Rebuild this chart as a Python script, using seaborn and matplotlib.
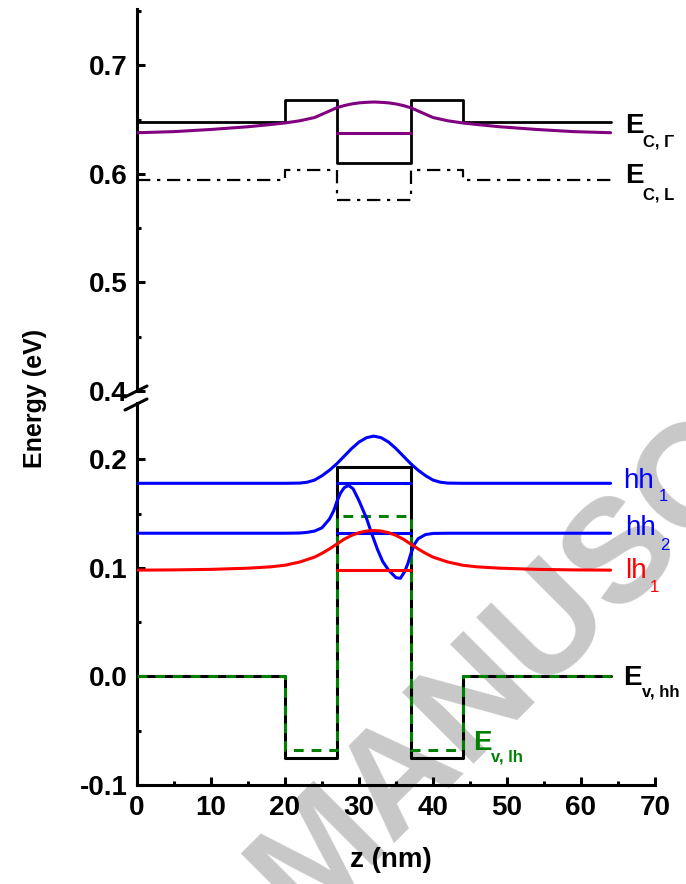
import matplotlib
matplotlib.use("Agg")
import numpy as np
import pandas as pd
import matplotlib.pyplot as plt
import seaborn as sns
from matplotlib.lines import Line2D
from matplotlib.ticker import FixedLocator

# ---------------- data ----------------
z_band = [0, 20, 20, 27, 27, 37, 37, 44, 44, 64]
ec_gamma = [0.648, 0.648, 0.668, 0.668, 0.610, 0.610, 0.668, 0.668, 0.648, 0.648]
ec_L = [0.594, 0.594, 0.604, 0.604, 0.576, 0.576, 0.604, 0.604, 0.594, 0.594]
ev_hh = [0.0, 0.0, -0.075, -0.075, 0.193, 0.193, -0.075, -0.075, 0.0, 0.0]
ev_lh = [0.0, 0.0, -0.068, -0.068, 0.148, 0.148, -0.068, -0.068, 0.0, 0.0]

z_well = [27, 37]
lvl_c1 = [0.638, 0.638]
lvl_hh1 = [0.178, 0.178]
lvl_hh2 = [0.132, 0.132]
lvl_lh1 = [0.098, 0.098]

z_c1 = [0, 5, 10, 15, 18, 20, 22, 24, 25, 26, 27, 28, 29, 30, 31, 32,
        33, 34, 35, 36, 37, 38, 39, 40, 42, 44, 46, 49, 54, 59, 64]
e_c1 = [0.638, 0.639, 0.641, 0.6435, 0.6455, 0.647, 0.649, 0.652, 0.655, 0.658,
        0.661, 0.663, 0.6645, 0.6655, 0.666, 0.6663, 0.666, 0.6655, 0.6645, 0.663,
        0.661, 0.658, 0.655, 0.652, 0.649, 0.647, 0.6455, 0.6435, 0.641, 0.639, 0.638]

z_hh1 = [0, 20, 22, 23, 24, 25, 26, 27, 28, 29, 30, 31, 32, 33, 34, 35,
         36, 37, 38, 39, 40, 41, 42, 44, 64]
e_hh1 = [0.178, 0.178, 0.1782, 0.179, 0.181, 0.185, 0.190, 0.196, 0.203, 0.210,
         0.216, 0.220, 0.2215, 0.220, 0.216, 0.210, 0.203, 0.196, 0.190, 0.185,
         0.181, 0.179, 0.1782, 0.178, 0.178]

z_hh2 = [0, 20, 22, 23, 24, 25, 26, 26.6, 27, 27.5, 28, 28.6, 29.2, 30, 31,
         31.7, 32.5, 33.2, 34, 35, 35.6, 36.2, 36.6, 37, 37.5, 38, 39, 40, 42, 64]
e_hh2 = [0.132, 0.132, 0.1322, 0.1328, 0.134, 0.137, 0.145, 0.153, 0.161, 0.169,
         0.174, 0.176, 0.173, 0.162, 0.146, 0.132, 0.117, 0.106, 0.098, 0.091,
         0.0905, 0.097, 0.104, 0.113, 0.122, 0.127, 0.1308, 0.1318, 0.132, 0.132]

z_lh1 = [0, 5, 10, 15, 18, 20, 22, 24, 25, 26, 27, 28, 29, 30, 31, 32,
         33, 34, 35, 36, 37, 38, 39, 40, 42, 44, 46, 49, 54, 59, 64]
e_lh1 = [0.098, 0.0982, 0.0987, 0.0998, 0.101, 0.1025, 0.1055, 0.110, 0.1135, 0.1175,
         0.122, 0.1265, 0.1300, 0.1325, 0.134, 0.1345, 0.134, 0.1325, 0.1300, 0.1265,
         0.122, 0.1175, 0.1135, 0.110, 0.1055, 0.1025, 0.101, 0.0998, 0.0987, 0.0982, 0.098]

x_ticks = [0, 10, 20, 30, 40, 50, 60, 70]
y_ticks_top = [0.4, 0.5, 0.6, 0.7]
y_ticks_bot = [-0.1, 0.0, 0.1, 0.2]

# ---------------- style ----------------
sns.set_theme(style="ticks")
plt.rcParams["font.family"] = ["Liberation Sans", "DejaVu Sans"]
plt.rcParams["axes.linewidth"] = 2.2
for k in ("text.color", "axes.labelcolor", "xtick.color", "ytick.color",
          "axes.edgecolor"):
    plt.rcParams[k] = "black"

W, H = 686, 884
fig = plt.figure(figsize=(W / 100, H / 100), dpi=100)

def fx(px):
    return px / W

def fy(py):
    return 1 - py / H

x0, x1 = 137, 655
ax_top = fig.add_axes([fx(x0), fy(391), fx(x1) - fx(x0), (391 - 9) / H])
ax_bot = fig.add_axes([fx(x0), fy(785), fx(x1) - fx(x0), (785 - 403) / H])

for ax in (ax_top, ax_bot):
    ax.set_facecolor("none")
    ax.set_xlim(0, 70)
    ax.spines["top"].set_visible(False)
    ax.spines["right"].set_visible(False)
    for s in ax.spines.values():
        s.set_color("black")

ax_top.set_ylim(0.4, 0.752)
ax_bot.set_ylim(-0.1, 0.252)
ax_top.spines["bottom"].set_visible(False)


def line(ax, x, y, color, lw=2.0, ls="-", z=2):
    df = pd.DataFrame({"z": x, "E": y})
    sns.lineplot(data=df, x="z", y="E", ax=ax, color=color, linewidth=lw,
                 linestyle=ls, sort=False, estimator=None, zorder=z)


# top panel: conduction band
line(ax_top, z_band, ec_gamma, "black", 2.0)
line(ax_top, z_band, ec_L, "black", 1.6, (0, (6, 3, 1.5, 3)))
line(ax_top, z_c1, e_c1, "#800080", 2.2, "-", 3)
line(ax_top, z_well, lvl_c1, "#800080", 2.2, "-", 3)

# bottom panel: valence band
line(ax_bot, z_band, ev_hh, "black", 2.2)
line(ax_bot, z_band, ev_lh, "#008000", 2.2, (0, (3.2, 2.6)), 3)
line(ax_bot, z_hh1, e_hh1, "#0000ff", 2.2, "-", 4)
line(ax_bot, z_well, lvl_hh1, "#0000ff", 2.2, "-", 4)
line(ax_bot, z_hh2, e_hh2, "#0000ff", 2.2, "-", 4)
line(ax_bot, z_well, lvl_hh2, "#0000ff", 2.2, "-", 4)
line(ax_bot, z_lh1, e_lh1, "#ff0000", 2.2, "-", 4)
line(ax_bot, z_well, lvl_lh1, "#ff0000", 2.2, "-", 4)

# ticks
ax_top.set_xticks([])
ax_top.yaxis.set_major_locator(FixedLocator(y_ticks_top))
ax_top.yaxis.set_minor_locator(FixedLocator([0.45, 0.55, 0.65, 0.75]))
ax_top.set_yticklabels([f"{v:.1f}" for v in y_ticks_top])
ax_bot.yaxis.set_major_locator(FixedLocator(y_ticks_bot))
ax_bot.yaxis.set_minor_locator(FixedLocator([-0.05, 0.05, 0.15]))
ax_bot.set_yticklabels([f"{v:.1f}" for v in y_ticks_bot])
ax_bot.xaxis.set_major_locator(FixedLocator(x_ticks))
ax_bot.xaxis.set_minor_locator(FixedLocator([5, 15, 25, 35, 45, 55, 65]))
ax_bot.set_xticklabels([str(v) for v in x_ticks])

for ax in (ax_top, ax_bot):
    ax.tick_params(which="major", direction="in", length=6, width=2.2,
                   labelsize=20, pad=7, color="black", labelcolor="black")
    ax.tick_params(which="minor", direction="in", length=3.2, width=2.2,
                   color="black")
    ax.set_xlabel("")
    ax.set_ylabel("")
    for t in ax.get_xticklabels() + ax.get_yticklabels():
        t.set_fontweight("bold")
ax_top.tick_params(axis="x", which="both", length=0)

# axis labels
fig.text(fx(391), fy(860), "z (nm)", ha="center", va="center",
         fontsize=20, fontweight="bold", color="black")
fig.text(fx(35), fy(398), "Energy (eV)", ha="center", va="center",
         rotation=90, fontsize=18, fontweight="bold", color="black")

# axis break marks
for (xa, ya, xb, yb) in [(125, 397, 147, 386), (125, 410, 147, 399)]:
    fig.add_artist(Line2D([fx(xa), fx(xb)], [fy(ya), fy(yb)],
                          transform=fig.transFigure, color="black", lw=2.2))


# curve labels
def label(ax, xm, ym, main, xs, ys, sub, color, weight, size, subsize):
    ax.text(xm, ym, main, color=color, fontsize=size, fontweight=weight,
            ha="left", va="baseline", clip_on=False)
    ax.text(xs, ys, sub, color=color, fontsize=subsize, fontweight=weight,
            ha="left", va="baseline", clip_on=False)


label(ax_top, 65.9, 0.6378, "E", 68.4, 0.6249, "C, \u0393", "black", "bold", 20, 12)
label(ax_top, 65.9, 0.5917, "E", 68.4, 0.5760, "C, L", "black", "bold", 20, 12)
label(ax_bot, 65.7, 0.1737, "hh", 70.5, 0.1618, "1", "#0000ff", "normal", 20, 12)
label(ax_bot, 65.9, 0.1304, "hh", 70.7, 0.1166, "2", "#0000ff", "normal", 20, 12)
label(ax_bot, 66.0, 0.0908, "lh", 69.3, 0.0779, "1", "#ff0000", "normal", 20, 12)
label(ax_bot, 65.7, -0.0078, "E", 68.2, -0.0189, "v, hh", "black", "bold", 20, 12)
label(ax_bot, 45.4, -0.0677, "E", 47.8, -0.0788, "v, lh", "#008000", "bold", 20, 12)

# watermark (behind the axes)
fig.text(fx(302), fy(925), "MANUSCRIPT", color="#c8c8c8",
         fontsize=106, fontweight="bold", rotation=45, rotation_mode="anchor",
         ha="left", va="baseline", zorder=-5)

fig.savefig("out.png", dpi=100)
